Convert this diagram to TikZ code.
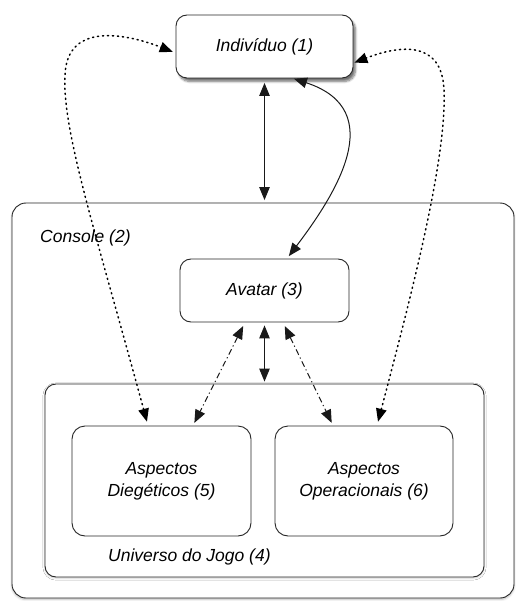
\documentclass[tikz,border=0pt]{standalone}
\usepackage{fontspec}
\setmainfont{Liberation Sans}
\usetikzlibrary{arrows.meta,shadows.blur}

\tikzset{
  tip/.tip={Triangle[length=13pt,width=10.5pt]},
  box/.style={draw=black!85, line width=0.9pt, rounded corners=11pt, fill=white,
              align=center, inner sep=0pt},
  lbl/.style={inner sep=0pt, align=center},
  link/.style={line width=1pt, black!90, tip-tip},
  dotline/.style={line width=1.5pt, dash pattern=on 1.2pt off 3.8pt, line cap=round, tip-tip},
  dashdot/.style={dash pattern=on 6pt off 3pt on 1.2pt off 3pt},
}

\begin{document}
\begin{tikzpicture}[x=1pt, y=-1pt, font=\fontsize{17.5}{22}\selectfont\itshape]
\useasboundingbox (0,0) rectangle (515,601);

% containers
\node[box, rounded corners=14pt, minimum width=502pt, minimum height=395pt,
      blur shadow={shadow xshift=0pt, shadow yshift=-1.5pt, shadow blur steps=5, shadow opacity=25}]
      (console) at (263,400.5) {};
\node[lbl, anchor=west] (consolelbl) at (40,238) {Console (2)};

\node[box, minimum width=439pt, minimum height=193pt,
      blur shadow={shadow xshift=0pt, shadow yshift=-1pt, shadow blur steps=4, shadow opacity=20}]
      (universo) at (264.5,480.5) {};
\node[lbl, anchor=west] (universolbl) at (108,557) {Universo do Jogo (4)};

% inner boxes
\node[box, rounded corners=13pt, minimum width=179pt, minimum height=110pt] (dieg) at (161.5,481)
      {Aspectos\\Diegéticos (5)};
\node[box, rounded corners=13pt, minimum width=178pt, minimum height=110pt] (oper) at (364,481)
      {Aspectos\\Operacionais (6)};

\node[box, minimum width=169pt, minimum height=63pt] (avatar) at (264.5,290.5) {Avatar (3)};

\node[box, minimum width=177pt, minimum height=63pt,
      blur shadow={shadow xshift=2.5pt, shadow yshift=-3.5pt, shadow blur steps=8, shadow opacity=55}]
      (ind) at (264.5,46.5) {Indivíduo (1)};

% solid links
\draw[link, shorten <=4.5pt, shorten >=2.5pt] (ind.south) -- (ind.south |- console.north);
\draw[link, shorten <=3pt, shorten >=2pt] (avatar.south) -- (universo.north);
\draw[link, shorten <=3pt, shorten >=1pt]
  ([xshift=22.5pt]avatar.north) .. controls (335,195) and (390,110) .. ([xshift=28.5pt]ind.south);

% dash-dot links between avatar and the two aspects
\draw[link, dashdot, shorten <=4pt, shorten >=3pt]
  ([xshift=-19.5pt]avatar.south) -- ([xshift=31.5pt]dieg.north);
\draw[link, dashdot, shorten <=4pt, shorten >=3pt]
  ([xshift=18.5pt]avatar.south) -- ([xshift=-31pt]oper.north);

% dotted feedback loops
\draw[dotline, shorten <=4pt, shorten >=3pt]
  ([xshift=-13.5pt]dieg.north) .. controls (95,230) and (62,130) .. (65,75)
  .. controls (67,20) and (130,35) .. ([yshift=-6.5pt]ind.west);
\draw[dotline, shorten <=4pt, shorten >=1pt]
  ([xshift=13pt]oper.north) .. controls (410,300) and (447,160) .. (444,90)
  .. controls (442,40) and (400,45) .. ([yshift=-16.5pt]ind.east);
\end{tikzpicture}
\end{document}
